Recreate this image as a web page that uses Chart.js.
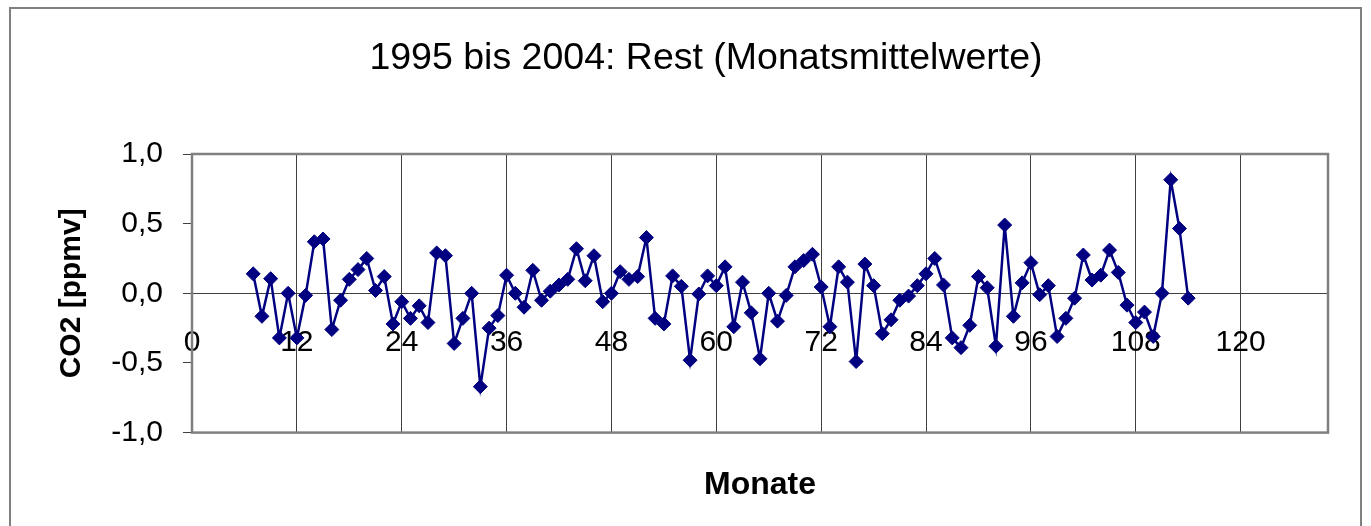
<!DOCTYPE html>
<html>
<head>
<meta charset="utf-8">
<title>CO2 Rest Monatsmittelwerte</title>
<script src="https://cdn.jsdelivr.net/npm/chart.js@4/dist/chart.umd.min.js"></script>
<style>
    body { margin: 0; background: #fff; }
    #box { width: 1371px; height: 526px; }
</style>
</head>
<body>
<div id="box"><canvas id="myChart" width="1371" height="526"></canvas></div>
<script>
// Monate (x) und Rest-Werte (y)
const monate = [7, 8, 9, 10, 11, 12, 13, 14, 15, 16, 17, 18, 19, 20, 21, 22, 23, 24,
    25, 26, 27, 28, 29, 30, 31, 32, 33, 34, 35, 36, 37, 38, 39, 40, 41, 42,
    43, 44, 45, 46, 47, 48, 49, 50, 51, 52, 53, 54, 55, 56, 57, 58, 59, 60,
    61, 62, 63, 64, 65, 66, 67, 68, 69, 70, 71, 72, 73, 74, 75, 76, 77, 78,
    79, 80, 81, 82, 83, 84, 85, 86, 87, 88, 89, 90, 91, 92, 93, 94, 95, 96,
    97, 98, 99, 100, 101, 102, 103, 104, 105, 106, 107, 108, 109, 110, 111, 112, 113, 114];

const rest = [0.14, -0.165, 0.105, -0.32, 0.0, -0.32, -0.015, 0.37, 0.39, -0.26, -0.05, 0.10,
    0.17, 0.25, 0.02, 0.12, -0.22, -0.06, -0.18, -0.09, -0.21, 0.29, 0.27, -0.36,
    -0.18, 0.0, -0.67, -0.25, -0.16, 0.13, 0.0, -0.10, 0.165, -0.05, 0.015, 0.06,
    0.10, 0.32, 0.09, 0.27, -0.06, 0.0, 0.155, 0.10, 0.12, 0.40, -0.18, -0.22,
    0.125, 0.05, -0.48, -0.005, 0.125, 0.055, 0.19, -0.24, 0.08, -0.14, -0.47, 0.0,
    -0.20, -0.015, 0.19, 0.235, 0.28, 0.045, -0.24, 0.19, 0.08, -0.49, 0.21, 0.055,
    -0.29, -0.19, -0.05, -0.02, 0.055, 0.14, 0.25, 0.06, -0.32, -0.39, -0.23, 0.12,
    0.04, -0.38, 0.49, -0.165, 0.075, 0.22, -0.01, 0.055, -0.31, -0.18, -0.035, 0.275,
    0.095, 0.13, 0.31, 0.15, -0.085, -0.21, -0.135, -0.31, 0.0, 0.815, 0.465, -0.035];

// Achsenbeschriftung
const xTicks = [0, 12, 24, 36, 48, 60, 72, 84, 96, 108, 120];
const yTicks = [-1.0, -0.5, 0.0, 0.5, 1.0];

const punkte = monate.map((m, i) => ({ x: m, y: rest[i] }));

Chart.defaults.font.family = '"Liberation Sans", Arial, sans-serif';
Chart.defaults.color = '#000';

// Rahmen um Diagramm und Zeichenflaeche
const rahmen = {
    id: 'rahmen',
    beforeDatasetsDraw(chart) {
        const ctx = chart.ctx;
        const a = chart.chartArea;
        ctx.save();
        ctx.strokeStyle = '#808080';
        ctx.lineWidth = 2;
        ctx.strokeRect(10, 8, 1351, 540);
        ctx.lineWidth = 2.5;
        ctx.strokeRect(a.left, a.top, a.right - a.left, a.bottom - a.top);
        ctx.restore();
    }
};

const ctx = document.getElementById('myChart').getContext('2d');
const myChart = new Chart(ctx, {
    type: 'line',
    data: {
        datasets: [{
            label: 'Rest',
            data: punkte,
            borderColor: '#000080',
            backgroundColor: '#000080',
            borderWidth: 2.5,
            pointStyle: 'rectRot',
            pointRadius: 7,
            pointBorderWidth: 1,
            tension: 0
        }]
    },
    options: {
        responsive: false,
        animation: false,
        layout: { padding: { left: 41, right: 0, top: 0, bottom: 0 } },
        plugins: {
            legend: { display: false },
            tooltip: { enabled: false },
            title: {
                display: true,
                text: '1995 bis 2004: Rest (Monatsmittelwerte)',
                font: { size: 37.5, weight: 'normal' },
                padding: { top: 36, bottom: 73 }
            },
            subtitle: {
                display: true,
                position: 'bottom',
                fullSize: false,
                text: 'Monate',
                font: { size: 32, weight: 'bold' },
                padding: { top: 33, bottom: 22 }
            }
        },
        scales: {
            x: {
                type: 'linear',
                position: { y: 0 },
                min: 0,
                max: 130,
                afterBuildTicks(scale) {
                    scale.ticks = xTicks.map(v => ({ value: v }));
                },
                ticks: {
                    font: { size: 30 },
                    padding: 22,
                    maxRotation: 0,
                    autoSkip: false
                },
                grid: {
                    color: '#404040',
                    lineWidth: 1,
                    tickLength: 9,
                    tickColor: '#404040'
                },
                border: { display: true, color: '#404040', width: 1 }
            },
            y: {
                min: -1,
                max: 1,
                afterFit(scale) { scale.width = 151; },
                afterBuildTicks(scale) {
                    scale.ticks = yTicks.map(v => ({ value: v }));
                },
                ticks: {
                    font: { size: 30 },
                    padding: 20,
                    callback: v => v.toFixed(1).replace('.', ',')
                },
                grid: {
                    drawOnChartArea: false,
                    tickLength: 9,
                    tickColor: '#404040'
                },
                border: { display: true, color: '#404040', width: 1 },
                title: {
                    display: true,
                    text: 'CO2 [ppmv]',
                    font: { size: 30, weight: 'bold' },
                    padding: { top: 13, bottom: 0 }
                }
            },
            // leere Achse rechts, haelt nur den Rand frei
            rand: {
                position: 'right',
                min: 0,
                max: 1,
                afterFit(scale) { scale.width = 43; },
                ticks: { display: false },
                grid: { display: false },
                border: { display: false }
            }
        }
    },
    plugins: [rahmen]
});
</script>
</body>
</html>
